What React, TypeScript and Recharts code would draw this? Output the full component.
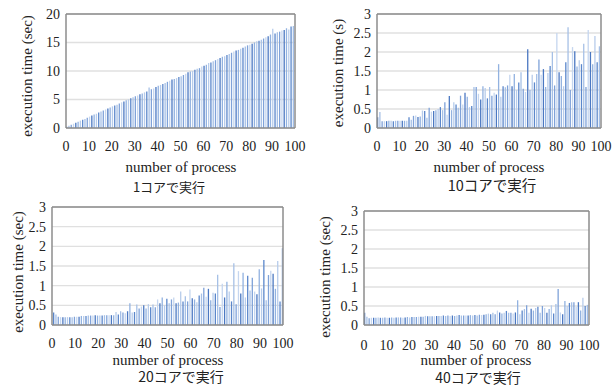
import React from "react";
import { BarChart, Bar, XAxis, YAxis, CartesianGrid, ReferenceLine, Cell } from "recharts";

const processNos = Array.from({ length: 100 }, (_, i) => i + 1);
const xTicks = [0, 10, 20, 30, 40, 50, 60, 70, 80, 90, 100];
const yTicks1 = [0, 5, 10, 15, 20];
const yTicksSmall = [0, 0.5, 1, 1.5, 2, 2.5, 3];

const core1 = [
  0.2, 0.4, 0.55, 0.75, 0.9, 1.1, 1.3, 1.45, 1.6, 1.8,
  2.0, 2.2, 2.35, 2.5, 2.7, 2.9, 3.05, 3.25, 3.4, 3.6,
  3.8, 3.95, 4.1, 4.3, 4.5, 4.65, 4.85, 5.0, 5.2, 5.4,
  5.55, 5.7, 5.9, 6.05, 6.25, 6.4, 7.1, 6.8, 6.95, 7.2,
  7.4, 7.55, 7.7, 7.9, 8.1, 8.3, 8.5, 8.6, 8.75, 8.95,
  9.1, 9.3, 9.5, 9.8, 9.9, 10.0, 10.2, 10.4, 10.5, 10.8,
  10.9, 11.1, 11.4, 11.5, 11.7, 11.9, 12.1, 12.3, 12.5, 12.6,
  12.8, 13.0, 13.2, 13.4, 13.6, 13.7, 13.9, 14.1, 14.3, 14.5,
  14.6, 14.8, 15.0, 15.2, 15.3, 15.5, 15.7, 15.9, 16.1, 16.4,
  17.4, 16.6, 16.8, 16.9, 17.1, 17.2, 17.5, 17.3, 17.8, 17.9,
];

const core10 = [
  0.28, 0.42, 0.18, 0.18, 0.18, 0.19, 0.19, 0.18, 0.19, 0.19,
  0.19, 0.19, 0.19, 0.19, 0.28, 0.22, 0.32, 0.33, 0.29, 0.3,
  0.46, 0.45, 0.27, 0.53, 0.43, 0.45, 0.47, 0.5, 0.55, 0.47,
  0.68, 0.35, 0.84, 0.47, 0.68, 0.62, 0.53, 0.85, 0.62, 0.93,
  0.82, 0.55, 0.58, 1.08, 1.08, 0.9, 0.75, 1.1, 1.05, 0.78,
  1.08, 0.85, 0.93, 0.88, 1.68, 0.82, 1.1, 1.07, 1.12, 1.4,
  1.1, 1.42, 1.0, 1.2, 1.47, 1.03, 0.95, 2.07, 1.0, 1.4,
  1.2, 1.42, 1.8, 1.4, 1.55, 1.08, 1.45, 1.63, 2.0, 1.12,
  2.5, 1.47, 1.37, 1.1, 1.73, 2.65, 1.0, 2.13, 2.02, 1.62,
  1.78, 1.68, 2.22, 1.08, 2.58, 2.0, 1.68, 2.42, 1.73, 2.15,
];

const core20 = [
  0.32, 0.27, 0.21, 0.2, 0.2, 0.2, 0.2, 0.2, 0.2, 0.21,
  0.21, 0.21, 0.23, 0.23, 0.23, 0.24, 0.24, 0.24, 0.25, 0.24,
  0.24, 0.24, 0.25, 0.25, 0.25, 0.25, 0.25, 0.33, 0.27, 0.35,
  0.32, 0.3, 0.35, 0.55, 0.32, 0.33, 0.52, 0.42, 0.47, 0.5,
  0.42, 0.53, 0.45, 0.52, 0.45, 0.65, 0.55, 0.7, 0.5, 0.67,
  0.55, 0.65, 0.7, 0.55, 0.57, 0.85, 0.6, 0.73, 0.6, 0.9,
  0.68, 0.65, 0.58, 0.75, 0.8, 0.95, 0.72, 0.92, 0.63, 0.82,
  0.8, 1.28, 0.46, 1.05, 0.7, 1.1, 0.85, 0.6, 1.57, 0.53,
  1.37, 0.8, 1.33, 0.7, 1.25, 0.88, 1.2, 0.85, 0.78, 1.42,
  0.93, 1.65, 0.63, 1.27, 1.38, 1.3, 0.92, 1.63, 0.6, 1.95,
];

const core40 = [
  0.32, 0.22, 0.18, 0.19, 0.19, 0.19, 0.2, 0.19, 0.19, 0.2,
  0.19, 0.19, 0.2, 0.19, 0.2, 0.2, 0.2, 0.19, 0.2, 0.21,
  0.2, 0.21, 0.21, 0.21, 0.22, 0.22, 0.22, 0.24, 0.23, 0.23,
  0.23, 0.23, 0.24, 0.24, 0.24, 0.25, 0.24, 0.25, 0.24, 0.25,
  0.24, 0.25, 0.26, 0.25, 0.25, 0.25, 0.25, 0.26, 0.25, 0.26,
  0.25, 0.27, 0.26, 0.27, 0.28, 0.3, 0.28, 0.32, 0.28, 0.38,
  0.33, 0.3, 0.32, 0.37, 0.32, 0.32, 0.3, 0.33, 0.65, 0.28,
  0.38, 0.42, 0.52, 0.32, 0.43, 0.38, 0.45, 0.48, 0.32, 0.5,
  0.45, 0.32, 0.42, 0.52, 0.3, 0.55, 0.95, 0.33, 0.28, 0.63,
  0.5, 0.58, 0.6, 0.6, 0.48, 0.6, 0.38, 0.72, 0.5, 0.53,
];

const shades = ["#5B87CB", "#A6C0E6", "#7FA2D9", "#C5D6EF", "#4B78C2", "#92B2E0", "#B7CCEB"];

type Panel = {
  values: number[];
  yMax: number;
  yTicks: number[];
  yLabel: string;
  xLabel: string;
  title: string;
  titleSize: number;
  box: { left: number; top: number; width: number; height: number };
  plot: { l: number; r: number; t: number; b: number };
  xTickGap: number;
  yLabelPos: { x: number; y: number };
  xLabelPos: { x: number; y: number };
  titlePos: { x: number; y: number };
};

const panels: Panel[] = [
  {
    values: core1, yMax: 20, yTicks: yTicks1, yLabel: "execution time (sec)", xLabel: "number of process",
    title: "1コアで実行", titleSize: 13,
    box: { left: 0, top: 0, width: 306, height: 192 }, plot: { l: 66, r: 295, t: 14, b: 128 }, xTickGap: 13,
    yLabelPos: { x: 27, y: 76 }, xLabelPos: { x: 181, y: 167 }, titlePos: { x: 169, y: 186 },
  },
  {
    values: core10, yMax: 3, yTicks: yTicksSmall, yLabel: "execution time (s)", xLabel: "number of process",
    title: "10コアで実行", titleSize: 14.5,
    box: { left: 306, top: 0, width: 306, height: 192 }, plot: { l: 71, r: 295, t: 14, b: 128 }, xTickGap: 13,
    yLabelPos: { x: 338, y: 73 }, xLabelPos: { x: 489, y: 167 }, titlePos: { x: 492, y: 185 },
  },
  {
    values: core20, yMax: 3, yTicks: yTicksSmall, yLabel: "execution time (sec)", xLabel: "number of process",
    title: "20コアで実行", titleSize: 14,
    box: { left: 0, top: 192, width: 306, height: 193 }, plot: { l: 52, r: 283, t: 15, b: 133 }, xTickGap: 13,
    yLabelPos: { x: 18, y: 272 }, xLabelPos: { x: 168, y: 359.5 }, titlePos: { x: 181, y: 376 },
  },
  {
    values: core40, yMax: 3, yTicks: yTicksSmall, yLabel: "execution time (sec)", xLabel: "number of process",
    title: "40コアで実行", titleSize: 14,
    box: { left: 306, top: 192, width: 306, height: 193 }, plot: { l: 58, r: 283, t: 19, b: 133 }, xTickGap: 15,
    yLabelPos: { x: 325, y: 277 }, xLabelPos: { x: 476, y: 360 }, titlePos: { x: 478, y: 376.5 },
  },
];

const serif = "'Liberation Serif', 'DejaVu Serif', serif";
const cjk = "'Noto Sans CJK JP', 'Noto Sans', sans-serif";
const border = "#8C8C8C";
const Y_AXIS_W = 40;
const X_AXIS_H = 30;

function SerifTick(props: any) {
  const { x, y, payload, textAnchor, vertical } = props;
  return (
    <text
      x={x}
      y={y}
      dy={vertical ? "0.355em" : "0.71em"}
      textAnchor={textAnchor}
      fill="#222"
      style={{ fontFamily: serif, fontSize: 14 }}
    >
      {payload.value}
    </text>
  );
}

function PanelChart({ p }: { p: Panel }) {
  const data = processNos.map((n, i) => ({ x: n - 0.5, v: p.values[i] }));
  const { box, plot } = p;
  const margin = {
    top: plot.t,
    right: box.width - plot.r,
    left: plot.l - Y_AXIS_W,
    bottom: box.height - plot.b - X_AXIS_H,
  };
  return (
    <div style={{ position: "absolute", left: box.left, top: box.top, width: box.width, height: box.height }}>
      <BarChart width={box.width} height={box.height} data={data} margin={margin} barGap={0}>
        <CartesianGrid vertical={false} stroke="#E0E0E0" strokeWidth={1.3} />
        <XAxis
          dataKey="x"
          type="number"
          domain={[0, 100]}
          ticks={xTicks}
          interval={0}
          height={X_AXIS_H}
          tickLine={false}
          tickSize={0}
          tickMargin={p.xTickGap}
          axisLine={{ stroke: border, strokeWidth: 1.5 }}
          tick={(t: any) => <SerifTick {...t} vertical={false} />}
        />
        <YAxis
          type="number"
          domain={[0, p.yMax]}
          ticks={p.yTicks}
          interval={0}
          width={Y_AXIS_W}
          tickLine={false}
          tickSize={0}
          tickMargin={6}
          axisLine={false}
          tick={(t: any) => <SerifTick {...t} vertical={true} />}
        />
        <Bar dataKey="v" barSize={1.3} isAnimationActive={false}>
          {data.map((_, i) => (
            <Cell key={i} fill={shades[i % shades.length]} />
          ))}
        </Bar>
        <ReferenceLine y={p.yMax} stroke={border} strokeWidth={1.5} />
        <ReferenceLine x={0} stroke={border} strokeWidth={1.5} />
        <ReferenceLine x={100} stroke={border} strokeWidth={1.5} />
      </BarChart>
    </div>
  );
}

const labelBase: React.CSSProperties = {
  position: "absolute",
  whiteSpace: "nowrap",
  lineHeight: 1,
  color: "#222",
};

export default function App() {
  return (
    <div style={{ position: "fixed", left: 0, top: 0, width: 612, height: 385, background: "#fff", overflow: "hidden" }}>
      {panels.map((p, idx) => (
        <PanelChart key={idx} p={p} />
      ))}
      {panels.map((p, idx) => (
        <React.Fragment key={"l" + idx}>
          <div
            style={{
              ...labelBase,
              left: p.yLabelPos.x,
              top: p.yLabelPos.y,
              fontFamily: serif,
              fontSize: 15,
              transform: "translate(-50%, -50%) rotate(-90deg)",
            }}
          >
            {p.yLabel}
          </div>
          <div
            style={{
              ...labelBase,
              left: p.xLabelPos.x,
              top: p.xLabelPos.y,
              fontFamily: serif,
              fontSize: 15,
              transform: "translate(-50%, -50%)",
            }}
          >
            {p.xLabel}
          </div>
          <div
            style={{
              ...labelBase,
              left: p.titlePos.x,
              top: p.titlePos.y,
              fontFamily: cjk,
              fontSize: p.titleSize,
              transform: "translate(-50%, -50%)",
            }}
          >
            {p.title}
          </div>
        </React.Fragment>
      ))}
    </div>
  );
}
